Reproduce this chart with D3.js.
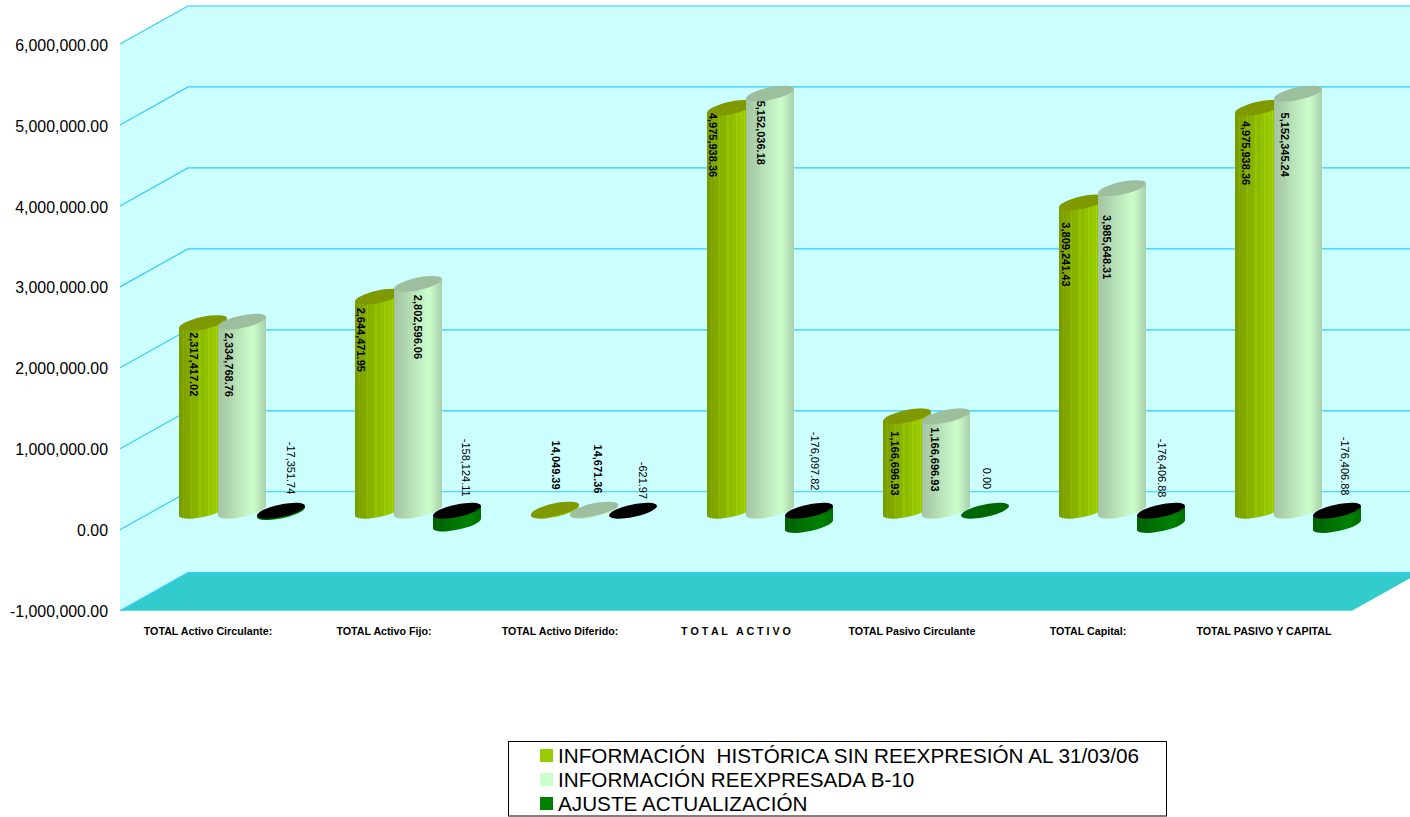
<!DOCTYPE html>
<html>
<head>
<meta charset="utf-8">
<script src="https://cdn.jsdelivr.net/npm/d3@7"></script>
<style>
  body { margin: 0; background: #fff; }
  text { font-family: "Liberation Sans", Arial, sans-serif; fill: #000; }
</style>
</head>
<body>
<script>
const categories = [
  "TOTAL Activo Circulante:",
  "TOTAL Activo Fijo:",
  "TOTAL Activo Diferido:",
  "T O T A L   A C T I V O",
  "TOTAL Pasivo Circulante",
  "TOTAL Capital:",
  "TOTAL PASIVO Y CAPITAL",
];
const seriesNames = [
  "INFORMACIÓN  HISTÓRICA SIN REEXPRESIÓN AL 31/03/06",
  "INFORMACIÓN REEXPRESADA B-10",
  "AJUSTE ACTUALIZACIÓN",
];
const historica = [2317417.02, 2644471.95, 14049.39, 4975938.36, 1166696.93, 3809241.43, 4975938.36];
const reexpresada = [2334768.76, 2802596.06, 14671.36, 5152036.18, 1166696.93, 3985648.31, 5152345.24];
const ajuste = [-17351.74, -158124.11, -621.97, -176097.82, 0, -176406.88, -176406.88];
const yTicks = [-1000000, 0, 1000000, 2000000, 3000000, 4000000, 5000000, 6000000];

// label nudges: [dx from bar centre, dy from bar top], one row per category
const labelNudge = [
  [[-9, 9], [-13, 11], [10, -69]],
  [[-18, 11], [0, 11], [9, -72]],
  [[1, -69], [4, -65], [10, -49]],
  [[-18, 5], [-9, 7], [6, -79]],
  [[-12, 15], [-11, 11], [2, -43]],
  [[-17, 20], [-15, 27], [1, -72]],
  [[-13, 13], [-13, 19], [8, -74]],
];

const width = 1410;
const height = 817;
const depth = { x: 68, y: -38 };
const plot = { left: 120, right: 1352, top: 44, bottom: 610.7 };

const colors = [
  { low: "#7a9c00", high: "#99cc00", end: "#8db800", cap: "#7f9900" },
  { low: "#a3c4a3", high: "#ccffcc", end: "#a8cba8", cap: "#9dbf9d" },
  { low: "#005f00", high: "#008000", end: "#006a00", cap: "#000000" },
];

// hyphen instead of d3's default minus sign
const fmt = (v) => d3.format(",.2f")(v).replace("−", "-");

const svg = d3.select("body").append("svg").attr("width", width).attr("height", height);
const defs = svg.append("defs");

const x = d3.scaleBand().domain(categories).range([plot.left, plot.right]);
const y = d3.scaleLinear().domain([-1000000, 6000000]).range([plot.bottom, plot.top]);
const barGap = 39;

// walls and floor
const backX = plot.left + depth.x;
const yTop = y(6000000);
const floorBack = plot.bottom + depth.y;
svg.append("path")
  .attr("fill", "#ccffff")
  .attr("d", `M${plot.left},${yTop}L${backX},${yTop + depth.y}L${width},${yTop + depth.y}L${width},${floorBack}L${backX},${floorBack}L${plot.left},${plot.bottom}Z`);
const floorEdgeY = plot.bottom + (depth.y * (width - plot.right)) / depth.x;
svg.append("path")
  .attr("fill", "#33cccc")
  .attr("d", `M${plot.left},${plot.bottom}L${backX},${floorBack}L${width},${floorBack}L${width},${floorEdgeY}L${plot.right},${plot.bottom}Z`);

// gridlines
svg.append("g")
  .selectAll("path")
  .data(yTicks)
  .join("path")
  .attr("fill", "none")
  .attr("stroke", "#33ccff")
  .attr("stroke-width", 1.2)
  .attr("d", (d) => `M${plot.left},${y(d)}L${backX},${y(d) + depth.y}L${width},${y(d) + depth.y}`);

// y axis
const yAxis = svg.append("g")
  .attr("transform", `translate(${plot.left - 12},1)`)
  .call(d3.axisLeft(y).tickValues(yTicks).tickFormat(fmt).tickSize(0).tickPadding(0));
yAxis.select(".domain").remove();
yAxis.selectAll("text").attr("font-size", 15.9).attr("fill", "#000");

// category labels
svg.append("g")
  .selectAll("text")
  .data(categories)
  .join("text")
  .attr("x", (d) => x(d) + x.bandwidth() / 2)
  .attr("y", 635)
  .attr("text-anchor", "middle")
  .attr("font-size", 10.7)
  .attr("font-weight", "bold")
  .style("white-space", "pre")
  .text((d) => d);

// cylinders
const rx = 24.5;
const ry = 6.2;
const tilt = (-12 * Math.PI) / 180;
const t0 = Math.atan2(-ry * Math.sin(tilt), rx * Math.cos(tilt));
const edge = {
  x: rx * Math.cos(t0) * Math.cos(tilt) - ry * Math.sin(t0) * Math.sin(tilt),
  y: rx * Math.cos(t0) * Math.sin(tilt) + ry * Math.sin(t0) * Math.cos(tilt),
};
const yMid = (v) => y(v) + depth.y / 2;

colors.forEach((c, i) => {
  const grad = defs.append("linearGradient").attr("id", "strips" + i);
  const n = 40;
  for (let k = 0; k < n; k++) {
    const p = k / n;
    let col = p < 0.72
      ? d3.interpolateRgb(c.low, c.high)(p / 0.72)
      : d3.interpolateRgb(c.high, c.end)((p - 0.72) / 0.28);
    if (i !== 1 && k % 7 === 3) col = d3.rgb(col).brighter(0.2).formatHex();
    grad.append("stop").attr("offset", p).attr("stop-color", col);
    grad.append("stop").attr("offset", (k + 1) / n).attr("stop-color", col);
  }
});

const bars = [historica, reexpresada, ajuste].flatMap((values, s) =>
  values.map((v, g) => ({
    s,
    g,
    v,
    cx: x(categories[g]) + x.bandwidth() / 2 + depth.x / 2 + (s - 1) * barGap,
  }))
);
const barLayer = svg.append("g");
d3.range(categories.length).forEach((g) => {
  bars.filter((b) => b.g === g).forEach((b) => {
    const top = yMid(Math.max(b.v, 0));
    const bottom = yMid(Math.min(b.v, 0));
    const group = barLayer.append("g").attr("transform", `translate(${b.cx},0)`);
    const rot = (tilt * 180) / Math.PI;
    if (bottom - top > 0.4) {
      group.append("path")
        .attr("fill", `url(#strips${b.s})`)
        .attr("d", `M${-edge.x},${top - edge.y}L${-edge.x},${bottom - edge.y}` +
          `A${rx},${ry} ${rot} 0 0 ${edge.x},${bottom + edge.y}` +
          `L${edge.x},${top + edge.y}Z`);
    }
    group.append("ellipse")
      .attr("rx", rx)
      .attr("ry", ry)
      .attr("transform", `translate(0,${top}) rotate(${rot})`)
      .attr("fill", b.s === 2 && b.v === 0 ? "#006600" : colors[b.s].cap);
  });
});

// data labels
svg.append("g")
  .selectAll("text")
  .data(bars)
  .join("text")
  .attr("transform", (d) => {
    const [dx, dy] = labelNudge[d.g][d.s];
    return `translate(${d.cx + dx},${yMid(Math.max(d.v, 0)) + dy}) rotate(90)`;
  })
  .attr("dy", "0.35em")
  .attr("font-size", 11)
  .attr("font-weight", (d) => (d.s === 2 ? "normal" : "bold"))
  .text((d) => fmt(d.v));

// legend
const legend = svg.append("g");
legend.append("rect")
  .attr("x", 508.5).attr("y", 741.5).attr("width", 658).attr("height", 74.5)
  .attr("fill", "#fff").attr("stroke", "#000");
const legendY = d3.scalePoint().domain(seriesNames).range([755.5, 803.5]);
const legendColors = ["#99cc00", "#ccffcc", "#008000"];
seriesNames.forEach((name, i) => {
  legend.append("rect")
    .attr("x", 540).attr("y", legendY(name) - 6.5).attr("width", 13).attr("height", 13)
    .attr("fill", legendColors[i]);
  legend.append("text")
    .attr("x", 558).attr("y", legendY(name) + 7.5)
    .attr("font-size", 20.7)
    .style("white-space", "pre")
    .text(name);
});
</script>
</body>
</html>
